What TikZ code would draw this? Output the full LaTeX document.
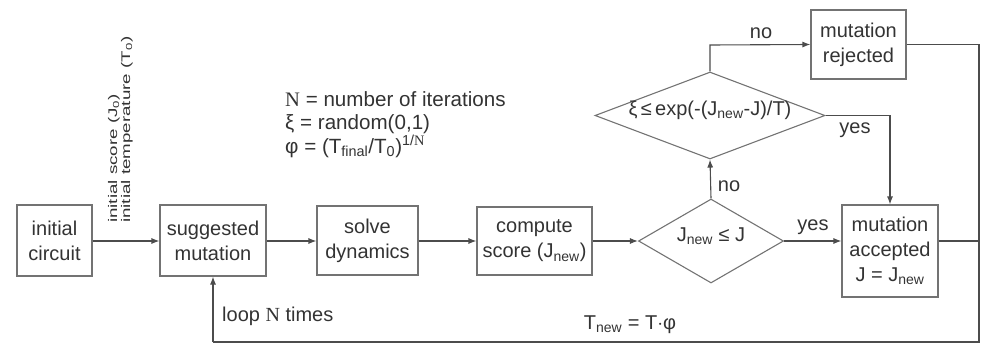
\documentclass[tikz,border=0pt]{standalone}
\usepackage{fontspec}
\setmainfont{Liberation Sans}
\newfontfamily\serifN{Liberation Serif}
\usetikzlibrary{shapes.geometric,arrows.meta}
\begin{document}
\begin{tikzpicture}[x=1pt,y=-1pt,
  box/.style={draw=black!55, line width=1.1pt, rectangle, inner sep=0pt, align=center, text=black!80, font=\fontsize{20}{25}\selectfont},
  dia/.style={draw=black!55, line width=1.1pt, diamond, inner sep=0pt, text=black!80, font=\fontsize{20}{25}\selectfont},
  conn/.style={draw=black!70, line width=1.1pt, -{Latex[length=8pt,width=6pt]}},
  plain/.style={draw=black!70, line width=1.1pt},
  lbl/.style={text=black!80, inner sep=0pt, font=\fontsize{20}{25}\selectfont},
  small/.style={text=black!80, inner sep=0pt, font=\fontsize{12.5}{14}\selectfont}]
\useasboundingbox (0,0) rectangle (981,345);

% boxes
\node[box, minimum width=75pt, minimum height=71pt] (ic) at (54.5,240.5) {initial\\circuit};
\node[box, minimum width=106pt, minimum height=71pt] (sm) at (213,240.5) {suggested\\mutation};
\node[box, minimum width=101pt, minimum height=69pt] (sd) at (367.5,240.5) {solve\\dynamics};
\node[box, minimum width=115pt, minimum height=68pt] (cs) at (534.5,241) {compute\\score (J\textsubscript{new})};
\node[dia, minimum width=145pt, minimum height=84pt] (d1) at (711,241) {\makebox[0pt]{\smash{J\textsubscript{new} ≤ J}}};
\node[dia, minimum width=230pt, minimum height=87pt] (d2) at (710,115.5) {\makebox[0pt]{\smash{ξ\,≤\,exp(-(J\textsubscript{new}-J)/T)}}};
\node[box, minimum width=95pt, minimum height=69pt] (mr) at (858.5,44.5) {mutation\\rejected};
\node[box, minimum width=96pt, minimum height=92pt] (ma) at (890,251) {mutation\\accepted\\J = J\textsubscript{new}};

\coordinate (cr) at (979,44.5);
\coordinate (cb) at (979,342);
\coordinate (lb) at (213,342);
\coordinate (nt) at (710,45);
\coordinate (yr) at (890,115.5);

% connectors
\draw[conn] (ic.east |- 0,241) -- (sm.west |- 0,241);
\draw[conn] (sm.east |- 0,241) -- (sd.west |- 0,241);
\draw[conn] (sd.east |- 0,241) -- (cs.west |- 0,241);
\draw[conn] (cs.east |- 0,241) -- (d1.west);
\draw[conn] (d1.east) -- (d1.east -| ma.west);
\draw[conn] (d1.north) -- (d2.south);
\draw[conn] (d2.north) -- (nt) -- (mr.west);
\draw[conn] (d2.east) -- (yr) -- (ma.north);
\draw[plain] (mr.east) -- (cr) -- (cb) -- (lb);
\draw[conn] (lb) -- (sm.south);
\draw[plain] (ma.east |- d1.east) -- (cr |- d1.east);

% labels
\node[lbl] (lno1) at (761,33) {no};
\node[lbl] (lyes1) at (855,130) {yes};
\node[lbl] (lno2) at (729,186) {no};
\node[lbl] (lyes2) at (813,227) {yes};
\node[lbl, anchor=west] (lloop) at (222,316) {loop {\serifN N} times};
\node[lbl] (ltnew) at (630,325) {T\textsubscript{new} = T$\cdot$φ};

\node[lbl, anchor=north west, align=left, font=\fontsize{20.6}{23.5}\selectfont] (legend) at (285,91)
  {{\serifN N} = number of iterations\\ ξ = random(0,1)\\ φ = (T\textsubscript{final}/T\textsubscript{0})\textsuperscript{1/{\serifN N}}};

\node[small, rotate=90, anchor=west] (l1) at (114,223) {\scalebox{1.5}[1]{initial score (J\textsubscript{0})}};
\node[small, rotate=90, anchor=west] (l2) at (127,223) {\scalebox{1.5}[1]{initial temperature (T\textsubscript{0})}};
\end{tikzpicture}
\end{document}
